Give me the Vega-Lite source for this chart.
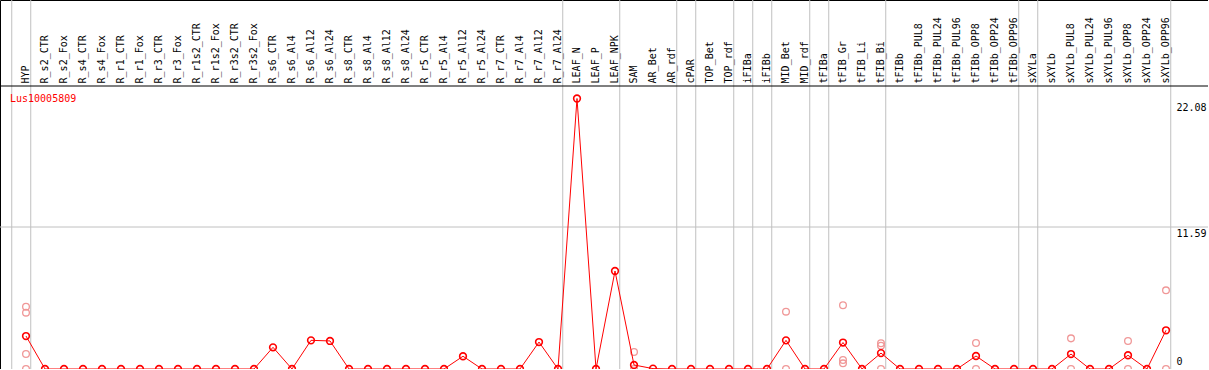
{
  "$schema": "https://vega.github.io/schema/vega-lite/v6.json",
  "width": 1208,
  "height": 369,
  "padding": 0,
  "autosize": {"type": "none"},
  "background": "white",
  "config": {"view": {"stroke": "black", "strokeWidth": 1}, "font": "DejaVu Sans Mono"},
  "title": {"text": "Lus10005809", "anchor": "start", "frame": "group", "orient": "top", "offset": -112, "baseline": "alphabetic", "dx": 10, "color": "red", "font": "DejaVu Sans Mono", "fontSize": 10, "fontWeight": "normal"},
  "datasets": {
    "cats": [
      {"i": 0, "name": "HYP", "v": 2.69},
      {"i": 1, "name": "R_s2_CTR", "v": 0},
      {"i": 2, "name": "R_s2_Fox", "v": 0},
      {"i": 3, "name": "R_s4_CTR", "v": 0},
      {"i": 4, "name": "R_s4_Fox", "v": 0},
      {"i": 5, "name": "R_r1_CTR", "v": 0},
      {"i": 6, "name": "R_r1_Fox", "v": 0},
      {"i": 7, "name": "R_r3_CTR", "v": 0},
      {"i": 8, "name": "R_r3_Fox", "v": 0},
      {"i": 9, "name": "R_r1s2_CTR", "v": 0},
      {"i": 10, "name": "R_r1s2_Fox", "v": 0},
      {"i": 11, "name": "R_r3s2_CTR", "v": 0},
      {"i": 12, "name": "R_r3s2_Fox", "v": 0},
      {"i": 13, "name": "R_s6_CTR", "v": 1.77},
      {"i": 14, "name": "R_s6_Al4", "v": 0},
      {"i": 15, "name": "R_s6_Al12", "v": 2.34},
      {"i": 16, "name": "R_s6_Al24", "v": 2.29},
      {"i": 17, "name": "R_s8_CTR", "v": 0},
      {"i": 18, "name": "R_s8_Al4", "v": 0},
      {"i": 19, "name": "R_s8_Al12", "v": 0},
      {"i": 20, "name": "R_s8_Al24", "v": 0},
      {"i": 21, "name": "R_r5_CTR", "v": 0},
      {"i": 22, "name": "R_r5_Al4", "v": 0},
      {"i": 23, "name": "R_r5_Al12", "v": 1.04},
      {"i": 24, "name": "R_r5_Al24", "v": 0},
      {"i": 25, "name": "R_r7_CTR", "v": 0},
      {"i": 26, "name": "R_r7_Al4", "v": 0},
      {"i": 27, "name": "R_r7_Al12", "v": 2.2},
      {"i": 28, "name": "R_r7_Al24", "v": 0},
      {"i": 29, "name": "LEAF_N", "v": 22.08},
      {"i": 30, "name": "LEAF_P", "v": 0},
      {"i": 31, "name": "LEAF_NPK", "v": 8.0},
      {"i": 32, "name": "SAM", "v": 0.33},
      {"i": 33, "name": "AR_Bet", "v": 0.03},
      {"i": 34, "name": "AR_rdf", "v": 0},
      {"i": 35, "name": "cPAR", "v": 0},
      {"i": 36, "name": "TOP_Bet", "v": 0},
      {"i": 37, "name": "TOP_rdf", "v": 0},
      {"i": 38, "name": "iFIBa", "v": 0},
      {"i": 39, "name": "iFIBb", "v": 0},
      {"i": 40, "name": "MID_Bet", "v": 2.34},
      {"i": 41, "name": "MID_rdf", "v": 0},
      {"i": 42, "name": "tFIBa", "v": 0},
      {"i": 43, "name": "tFIB_Gr", "v": 2.16},
      {"i": 44, "name": "tFIB_Li", "v": 0},
      {"i": 45, "name": "tFIB_Bi", "v": 1.3},
      {"i": 46, "name": "tFIBb", "v": 0},
      {"i": 47, "name": "tFIBb_PUL8", "v": 0},
      {"i": 48, "name": "tFIBb_PUL24", "v": 0},
      {"i": 49, "name": "tFIBb_PUL96", "v": 0},
      {"i": 50, "name": "tFIBb_OPP8", "v": 1.06},
      {"i": 51, "name": "tFIBb_OPP24", "v": 0},
      {"i": 52, "name": "tFIBb_OPP96", "v": 0},
      {"i": 53, "name": "sXYLa", "v": 0},
      {"i": 54, "name": "sXYLb", "v": 0},
      {"i": 55, "name": "sXYLb_PUL8", "v": 1.22},
      {"i": 56, "name": "sXYLb_PUL24", "v": 0},
      {"i": 57, "name": "sXYLb_PUL96", "v": 0},
      {"i": 58, "name": "sXYLb_OPP8", "v": 1.12},
      {"i": 59, "name": "sXYLb_OPP24", "v": 0},
      {"i": 60, "name": "sXYLb_OPP96", "v": 3.16}
    ],
    "reps": [
      {"i": 0, "v": 5.09}, {"i": 0, "v": 4.6}, {"i": 0, "v": 1.22}, {"i": 0, "v": 0},
      {"i": 32, "v": 1.39}, {"i": 32, "v": 0},
      {"i": 40, "v": 4.68}, {"i": 40, "v": 0},
      {"i": 43, "v": 5.2}, {"i": 43, "v": 0.73}, {"i": 43, "v": 0.46},
      {"i": 45, "v": 2.1}, {"i": 45, "v": 1.9}, {"i": 45, "v": 0},
      {"i": 50, "v": 2.12}, {"i": 50, "v": 0},
      {"i": 55, "v": 2.5}, {"i": 55, "v": 0},
      {"i": 58, "v": 2.29}, {"i": 58, "v": 0},
      {"i": 60, "v": 6.42}, {"i": 60, "v": 0}
    ],
    "seps": [
      {"pos": -0.75}, {"pos": 0.25}, {"pos": 28.25}, {"pos": 31.25}, {"pos": 34.25},
      {"pos": 35.25}, {"pos": 37.25}, {"pos": 38.25}, {"pos": 39.25}, {"pos": 41.25},
      {"pos": 42.25}, {"pos": 45.25}, {"pos": 52.25}, {"pos": 53.25}, {"pos": 60.25}
    ]
  },
  "layer": [
    {
      "data": {"name": "seps"},
      "mark": {"type": "rule", "color": "#c0c0c0", "strokeWidth": 1},
      "encoding": {
        "x": {"field": "pos", "type": "quantitative", "scale": {"domain": [-1.36842, 62.21053], "nice": false, "zero": false}, "axis": null}
      }
    },
    {
      "data": {"values": [{"g": 11.59}]},
      "mark": {"type": "rule", "color": "#c0c0c0", "strokeWidth": 1},
      "encoding": {
        "y": {"field": "g", "type": "quantitative", "scale": {"domain": [0, 30.12], "nice": false, "zero": false},
          "axis": {"orient": "right", "offset": -33, "values": [0, 11.59, 22.08], "labelExpr": "'' + datum.value", "ticks": false, "domain": false, "grid": false, "title": null, "labelFont": "DejaVu Sans Mono", "labelFontSize": 10, "labelColor": "black", "labelPadding": 1, "labelAlign": "left",
            "labelBaseline": {"condition": {"test": "datum.value === 0", "value": "bottom"}, "value": "top"},
            "labelOffset": {"condition": [{"test": "datum.value === 0", "value": -3}, {"test": "datum.value > 20", "value": 4}], "value": 1}}}
      }
    },
    {
      "data": {"values": [{"h": 23.1}]},
      "mark": {"type": "rule", "color": "black", "strokeWidth": 1},
      "encoding": {
        "y": {"field": "h", "type": "quantitative"}
      }
    },
    {
      "data": {"name": "reps"},
      "mark": {"type": "point", "shape": "circle", "filled": false, "color": "#f09898", "strokeWidth": 1.3, "size": 45, "opacity": 1},
      "encoding": {
        "x": {"field": "i", "type": "quantitative"},
        "y": {"field": "v", "type": "quantitative"}
      }
    },
    {
      "data": {"name": "cats"},
      "mark": {"type": "line", "color": "red", "strokeWidth": 1},
      "encoding": {
        "x": {"field": "i", "type": "quantitative"},
        "y": {"field": "v", "type": "quantitative"}
      }
    },
    {
      "data": {"name": "cats"},
      "mark": {"type": "point", "shape": "circle", "filled": false, "color": "red", "strokeWidth": 1.6, "size": 45, "opacity": 1},
      "encoding": {
        "x": {"field": "i", "type": "quantitative"},
        "y": {"field": "v", "type": "quantitative"}
      }
    },
    {
      "data": {"name": "cats"},
      "mark": {"type": "text", "angle": 270, "align": "left", "baseline": "middle", "font": "DejaVu Sans Mono", "fontSize": 10, "color": "black"},
      "encoding": {
        "x": {"field": "i", "type": "quantitative"},
        "y": {"datum": 23.31, "type": "quantitative"},
        "text": {"field": "name"}
      }
    }
  ]
}
